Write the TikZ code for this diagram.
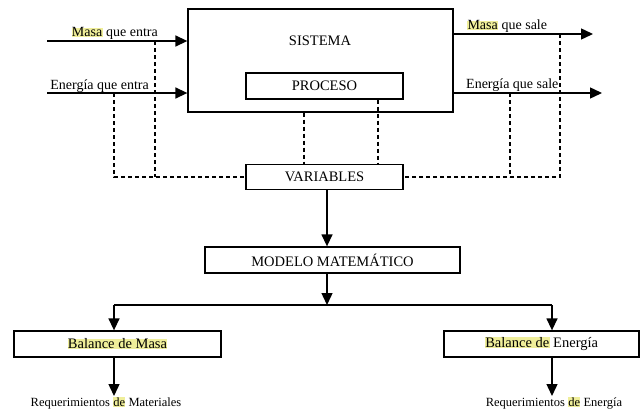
\documentclass[tikz,border=0pt]{standalone}
\usepackage{fontspec}
\setmainfont{Liberation Serif}
\usetikzlibrary{arrows.meta}
\definecolor{hly}{HTML}{EFEE9A}
\newcommand\hlt[1]{{\setlength{\fboxsep}{0.3pt}\colorbox{hly}{#1}}}
\tikzset{
  box/.style={draw, line width=1.3pt, inner sep=0pt, font=\fontsize{14.5}{16}\selectfont},
  arr/.style={line width=1.4pt, -{Triangle[length=12pt,width=11pt]}},
  ln/.style={line width=1.4pt},
  dsh/.style={line width=1.2pt, dash pattern=on 4pt off 3pt},
  lbl/.style={inner sep=0pt, font=\fontsize{14}{16}\selectfont},
  req/.style={inner sep=1pt, font=\fontsize{12.5}{14}\selectfont},
}
\begin{document}
\begin{tikzpicture}[x=1pt,y=-1pt]
\useasboundingbox (0,0) rectangle (641,415);
% boxes
\node[box, minimum width=265pt, minimum height=103pt] (sis) at (320.5,60.5) {};
\node[lbl, font=\fontsize{14.5}{16}\selectfont] (sist) at (320,41) {SISTEMA};
\node[box, minimum width=157pt, minimum height=26pt] (proc) at (324.5,86) {PROCESO};
\node[box, minimum width=157pt, minimum height=25pt] (var) at (324.5,177) {VARIABLES};
\node[box, minimum width=255pt, minimum height=26pt] (mod) at (332.5,260) {MODELO MATEMÁTICO};
\node[box, minimum width=207pt, minimum height=26pt] (bm) at (117.5,344) {\hlt{Balance de Masa}};
\node[box, minimum width=195pt, minimum height=26pt] (be) at (541.5,344) {\hlt{Balance de} Energía};
\node[req, anchor=north] (r1) at (106,396) {Requerimientos \hlt{de} Materiales};
\node[req, anchor=north] (r2) at (554,396) {Requerimientos \hlt{de} Energía};
% inputs
\coordinate (min) at (47,41);
\coordinate (ein) at (47,93);
\draw[arr] (min) -- (min -| sis.west);
\draw[arr] (ein) -- (ein -| sis.west);
\node[lbl, anchor=base east] (lmin) at (158,37) {\hlt{Masa} que entra};
\node[lbl, anchor=base east] (lein) at (149,89) {Energía que entra};
% outputs
\coordinate (mout) at (593,34);
\coordinate (eout) at (602,93);
\draw[arr] (mout -| sis.east) -- (mout);
\draw[arr] (eout -| sis.east) -- (eout);
\node[lbl, anchor=base west] (lmout) at (467,30) {\hlt{Masa} que sale};
\node[lbl, anchor=base west] (leout) at (466,88) {Energía que sale};
% dashed feedback
\coordinate (d1) at (155,41);
\coordinate (d2) at (114,93);
\coordinate (d3) at (560,34);
\coordinate (d4) at (510,93);
\draw[dsh] (d2) |- (var.west);
\draw[dsh] (d1) -- (d1 |- var.west);
\draw[dsh] (d3) |- (var.east);
\draw[dsh] (d4) -- (d4 |- var.east);
\coordinate (d5) at (304,112);
\coordinate (d6) at (378,99);
\draw[dsh] (sis.south -| d5) -- (var.north -| d5);
\draw[dsh] (proc.south -| d6) -- (var.north -| d6);
% main flow
\coordinate (j) at (327,305);
\coordinate (jl) at (114,305);
\coordinate (jr) at (552,305);
\draw[arr] (var.south -| j) -- (mod.north -| j);
\draw[arr] (mod.south -| j) -- (j);
\draw[ln] (jl) -- (jr);
\draw[arr] (jl) -- (jl |- bm.north);
\draw[arr] (jr) -- (jr |- be.north);
\draw[arr] (bm.south -| jl) -- (r1.north -| jl);
\draw[arr] (be.south -| jr) -- (r2.north -| jr);
\end{tikzpicture}
\end{document}
